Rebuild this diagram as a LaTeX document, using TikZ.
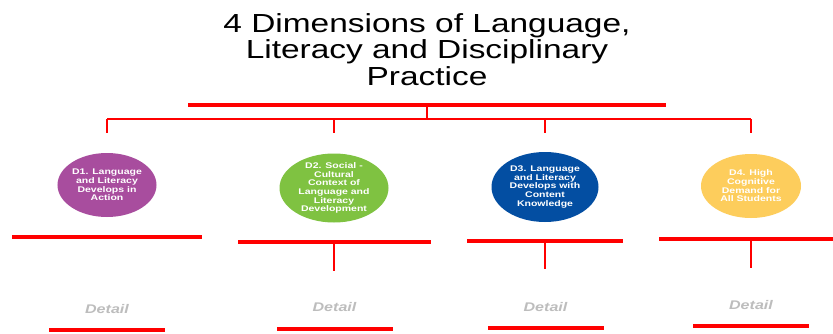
\documentclass[tikz,border=0pt]{standalone}
\usepackage{fontspec}
\setmainfont{Liberation Sans}
\newfontfamily\widesans[FakeStretch=1.28]{Liberation Sans}
\usepackage{xcolor}
\definecolor{BarRed}{HTML}{FF0000}
\definecolor{DimPurple}{HTML}{A84D9E}
\definecolor{DimGreen}{HTML}{7FC241}
\definecolor{DimBlue}{HTML}{034EA2}
\definecolor{DimYellow}{HTML}{FDCD5C}
\definecolor{DetailGray}{HTML}{BDBDBD}
\usetikzlibrary{shapes.geometric, positioning, calc}

\begin{document}
\begin{tikzpicture}[
  x=0.03cm, y=-0.03cm,
  % === STYLES ===
  % thick red bar
  bar/.style={
    fill=BarRed,
    minimum width=#1*0.03cm,
    minimum height=0.12cm,
    inner sep=0pt
  },
  % ellipse for a dimension
  dimnode/.style={
    ellipse,
    fill=#1,
    inner sep=0pt
  },
  % text inside the ellipse
  dimtext/.style={
    text=white,
    font=\widesans\bfseries\fontsize{7}{7.4}\selectfont,
    align=center,
    inner sep=0pt
  },
  % title
  title/.style={
    font=\widesans\fontsize{22.3}{22.8}\selectfont,
    align=center,
    inner sep=0pt
  },
  % detail label
  detail/.style={
    font=\widesans\bfseries\itshape\fontsize{10.7}{12}\selectfont,
    text=DetailGray,
    inner sep=0pt
  },
  % connectors
  stem/.style={draw=BarRed, line width=2.4pt},
  branch/.style={draw=BarRed, line width=1.6pt},
  drop/.style={draw=BarRed, line width=2.4pt},
  substem/.style={draw=BarRed, line width=1.2pt}
]

% =============================================================================
% BACKGROUND
% =============================================================================
\useasboundingbox[fill=white] (0,0) rectangle (833,333);

% =============================================================================
% TITLE
% =============================================================================
\node[title, anchor=north] (title) at (427,13)
  {4 Dimensions of Language,\\Literacy and Disciplinary\\Practice};
\node[bar=478] (topbar) at (427,105) {};

% =============================================================================
% DIMENSIONS
% =============================================================================
\node[dimnode=DimPurple, minimum width=2.97cm, minimum height=1.92cm,
      label={[dimtext]center:{D1. Language\\and Literacy\\Develops in\\Action}}]
      (d1) at (107,185) {};
\node[dimnode=DimGreen, minimum width=3.27cm, minimum height=2.07cm,
      label={[dimtext]center:{D2. Social -\\Cultural\\Context of\\Language and\\Literacy\\Development}}]
      (d2) at (334,188) {};
\node[dimnode=DimBlue, minimum width=3.21cm, minimum height=2.1cm,
      label={[dimtext]center:{D3. Language\\and Literacy\\Develops with\\Content\\Knowledge}}]
      (d3) at (545,187) {};
\node[dimnode=DimYellow, minimum width=3.0cm, minimum height=1.92cm,
      label={[dimtext]center:{D4. High\\Cognitive\\Demand for\\All Students}}]
      (d4) at (751,186) {};

% --- tree from the title bar ---
\coordinate (hub) at (427,119);
\draw[stem] (topbar.south) -- (hub);
\draw[branch] (hub -| d1) -- (hub -| d4);
\foreach \i in {1,...,4} {
  \coordinate (tip\i) at ($(hub -| d\i)+(0,14)$);
  \draw[drop] (hub -| d\i) -- (tip\i);
}

% =============================================================================
% BARS, STEMS AND DETAILS
% =============================================================================
\node[bar=190] (b1) at (107,237) {};
\node[bar=193] (b2) at (334.5,242) {};
\node[bar=156] (b3) at (545,241) {};
\node[bar=174] (b4) at (746,239) {};

\foreach \i/\y in {2/271, 3/269, 4/268} {
  \coordinate (s\i) at (d\i |- 0,\y);
  \draw[substem] (b\i.south -| d\i) -- (s\i);
}

\foreach \i/\x/\y/\ly in {1/107/309/330, 2/334.5/307/329, 3/545.5/307/328, 4/751/305/326} {
  \node[detail] (det\i) at (\x,\y) {Detail};
  \node[bar=116] (f\i) at (\x,\ly) {};
}

\end{tikzpicture}
\end{document}
